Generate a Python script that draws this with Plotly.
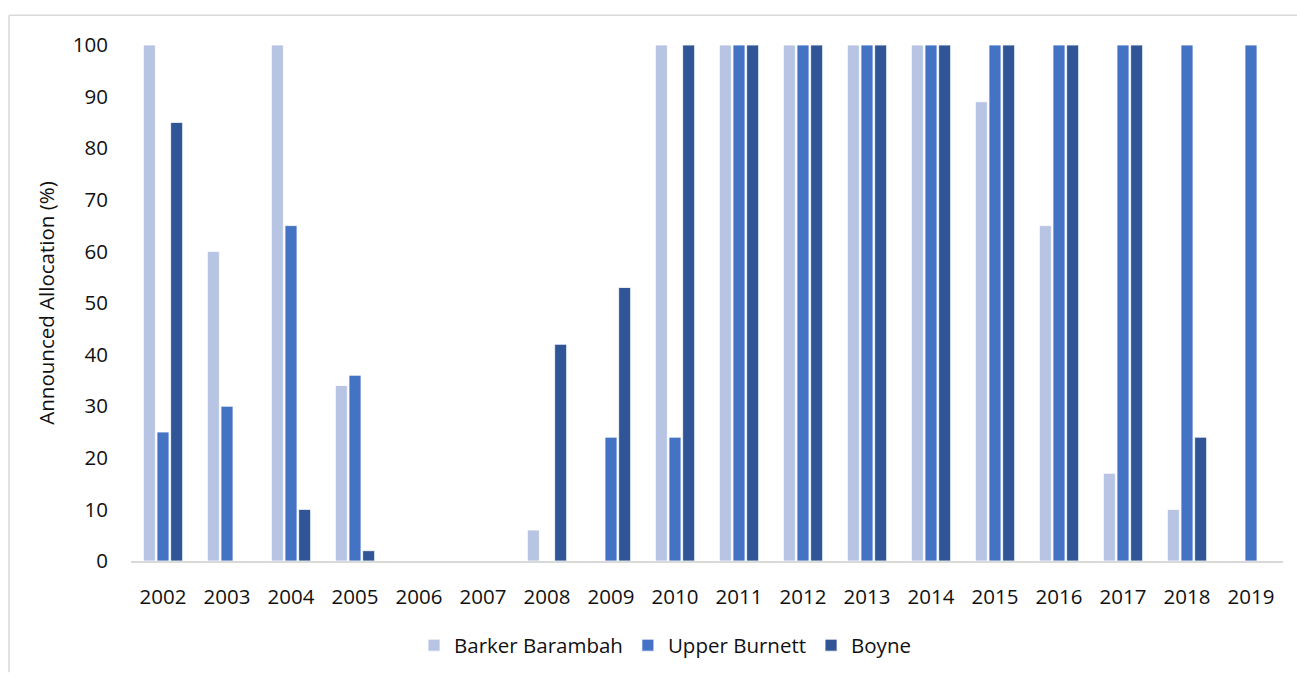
import plotly.graph_objects as go

years = [str(y) for y in range(2002, 2020)]
barker_barambah = [100, 60, 100, 34, 0, 0, 6, 0, 100, 100, 100, 100, 100, 89, 65, 17, 10, 0]
upper_burnett = [25, 30, 65, 36, 0, 0, 0, 24, 24, 100, 100, 100, 100, 100, 100, 100, 100, 100]
boyne = [85, 0, 10, 2, 0, 0, 42, 53, 100, 100, 100, 100, 100, 100, 100, 100, 24, 0]

series = [
    ("Barker Barambah", barker_barambah, "#B8C4E3"),
    ("Upper Burnett", upper_burnett, "#4472C4"),
    ("Boyne", boyne, "#2F5597"),
]

FONT = "'Open Sans', sans-serif"
FS = 20.5

fig = go.Figure()
for name, vals, color in series:
    fig.add_trace(go.Bar(
        x=years, y=vals, name=name,
        marker=dict(color=color, line=dict(color="white", width=0.8)),
    ))

W, H = 1297, 677
L, R, T, B = 131, 14, 45, 112
pw, ph = W - L - R, H - T - B

def px(x):
    return (x - L) / pw

def py(y):
    return (H - B - y) / ph

fig.update_layout(
    width=W, height=H,
    margin=dict(l=L, r=R, t=T, b=B),
    paper_bgcolor="white", plot_bgcolor="white",
    barmode="group", bargap=0.36, bargroupgap=0.12,
    font=dict(family=FONT, size=FS, color="#111111"),
    showlegend=True,
    legend=dict(orientation="h", x=px(665), xanchor="center", y=py(650), yanchor="middle",
                font=dict(size=FS), itemwidth=30, traceorder="normal"),
    xaxis=dict(showline=True, linecolor="#D9D9D9", linewidth=1.5, ticks="",
               showgrid=False, tickfont=dict(size=FS), ticklabelstandoff=17),
    yaxis=dict(range=[0, 100], dtick=10, showgrid=False, zeroline=False, ticks="",
               tickfont=dict(size=FS), ticklabelstandoff=22,
               title=dict(text="Announced Allocation (%)", font=dict(size=FS), standoff=12)),
    shapes=[
        dict(type="line", xref="paper", yref="paper", x0=px(9), x1=px(9), y0=py(677), y1=py(15),
             line=dict(color="#D9D9D9", width=1.5)),
        dict(type="line", xref="paper", yref="paper", x0=px(9), x1=px(1297), y0=py(15), y1=py(15),
             line=dict(color="#D9D9D9", width=1.5)),
    ],
)

fig.write_html("out.html")
